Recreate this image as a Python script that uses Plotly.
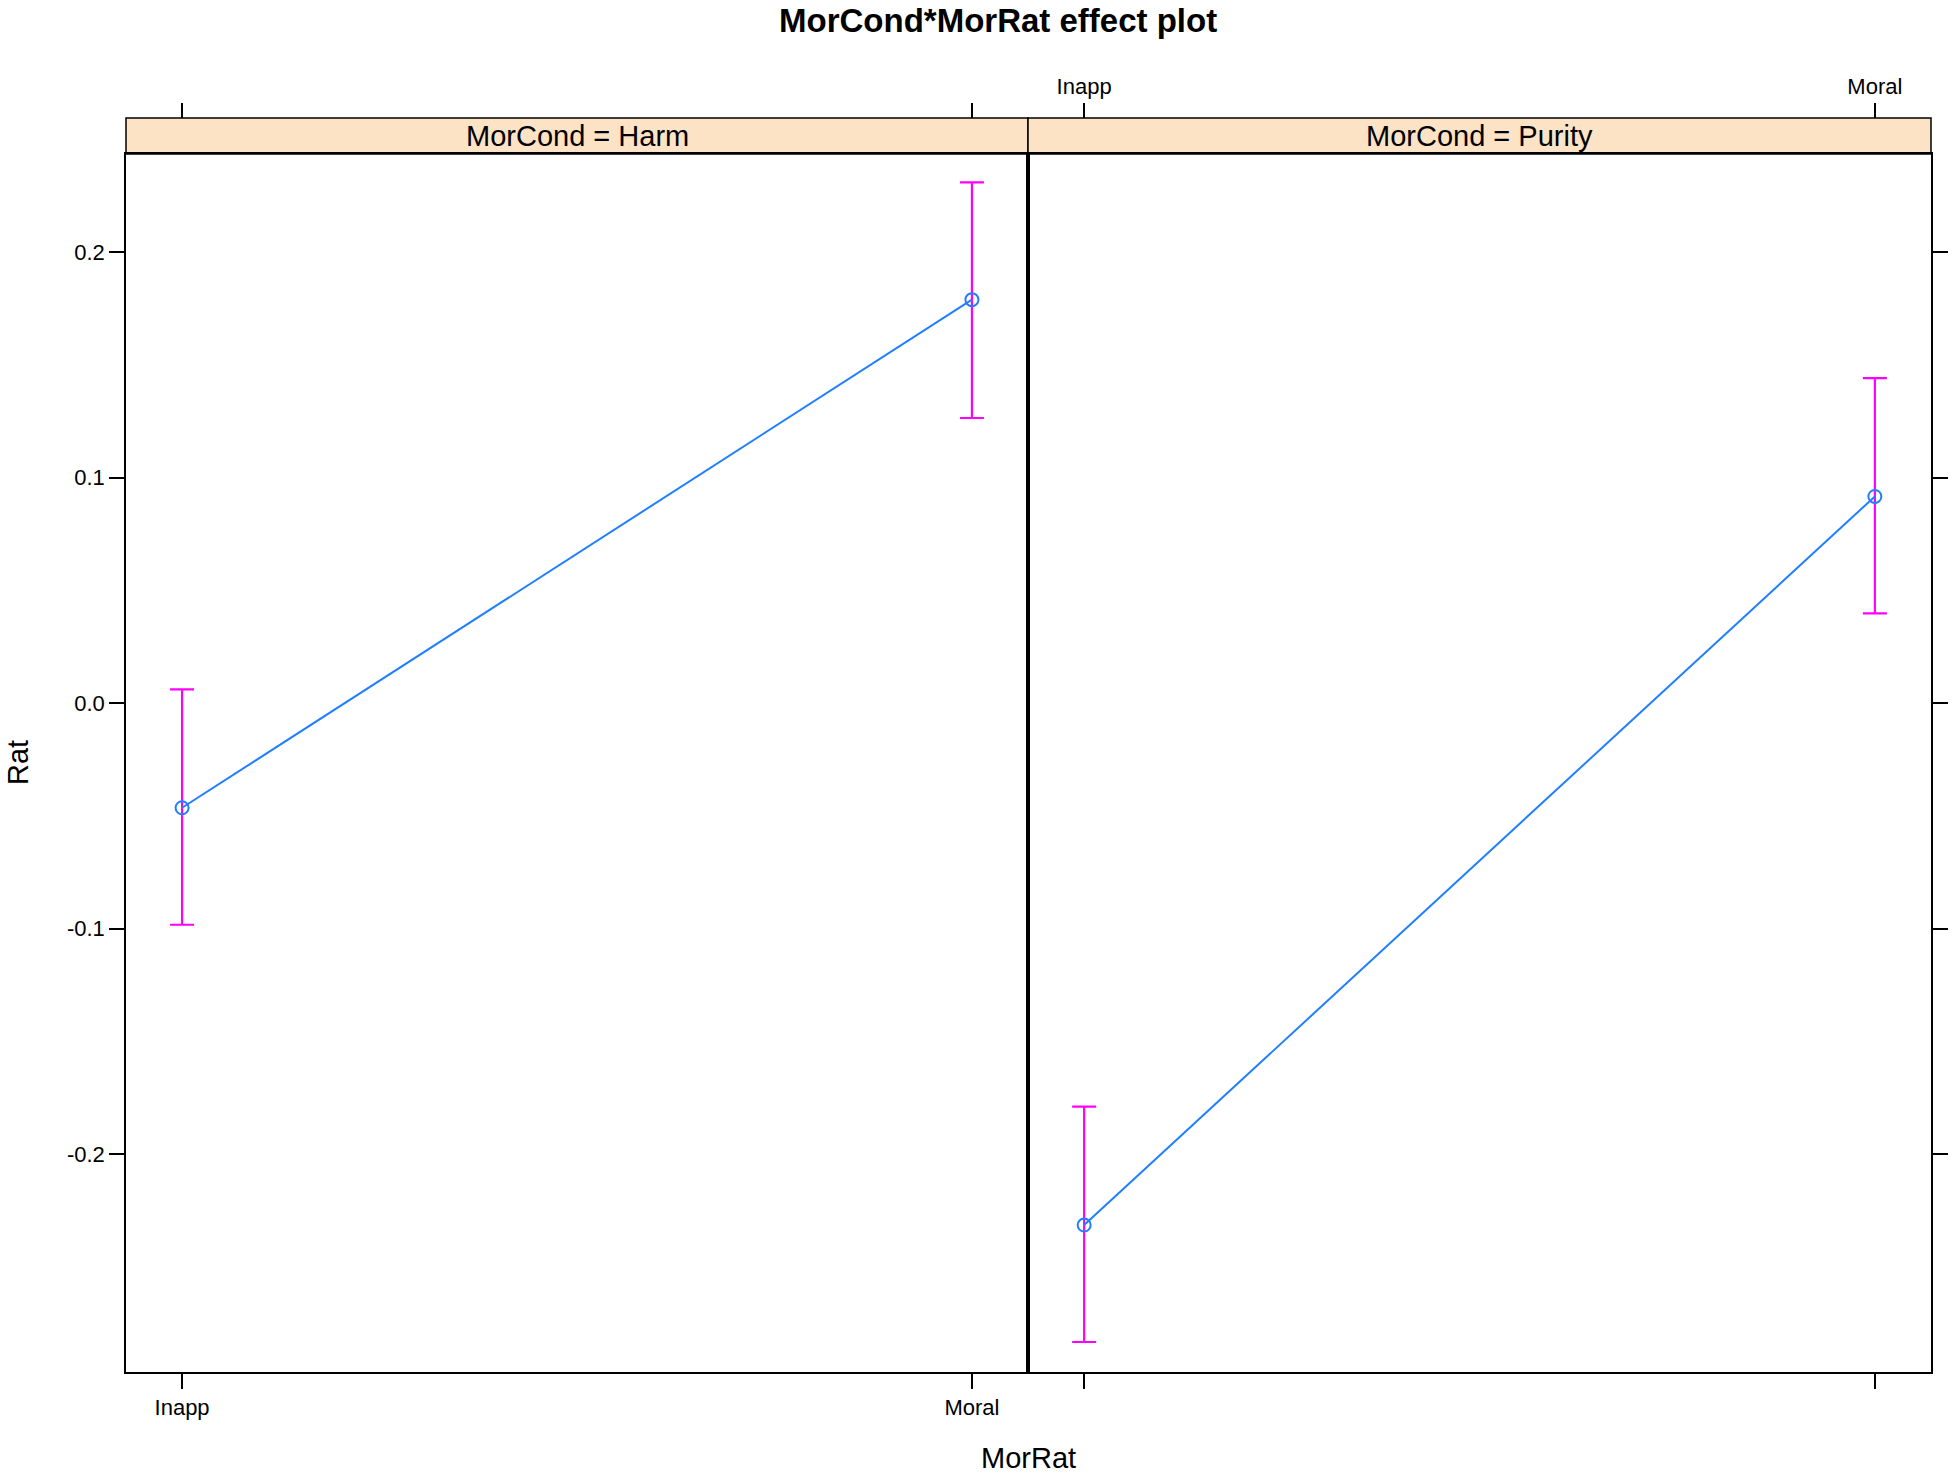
import plotly.graph_objects as go

# effect estimates
mor_rat = ["Inapp", "Moral"]
panels = ["Harm", "Purity"]
harm_fit = [-0.0464, 0.179]
harm_lower = [-0.0983, 0.1265]
harm_upper = [0.0061, 0.231]
purity_fit = [-0.2315, 0.0917]
purity_lower = [-0.2834, 0.0398]
purity_upper = [-0.179, 0.1442]
y_ticks = [-0.2, -0.1, 0.0, 0.1, 0.2]
y_tick_labels = ["-0.2", "-0.1", "0.0", "0.1", "0.2"]

W, H = 1952, 1476
FONT = "Liberation Sans, Arial, sans-serif"
LINE_COL = "#1f7fff"
ERR_COL = "#ff00ff"


def px(x):
    return x / W


def py(y):
    return 1 - y / H


# panel geometry in window pixels
px_left, px_mid, px_right = 126, 1028, 1931
py_top, py_bottom, strip_top = 154, 1372, 118
xd1 = [px(px_left), px(px_mid)]
xd2 = [px(px_mid), px(px_right)]
yd = [py(py_bottom), py(py_top)]
strip_y = [py(py_top), py(strip_top)]

fig = go.Figure()

series = [(harm_fit, harm_lower, harm_upper), (purity_fit, purity_lower, purity_upper)]
for i, (fit, lo, hi) in enumerate(series):
    xa = "x" if i == 0 else "x2"
    ya = "y" if i == 0 else "y2"
    fig.add_trace(go.Scatter(
        x=mor_rat, y=fit, xaxis=xa, yaxis=ya,
        mode="lines+markers",
        line=dict(color=LINE_COL, width=2),
        marker=dict(symbol="circle-open", size=13, color=LINE_COL, line=dict(width=2)),
        error_y=dict(type="data", symmetric=False,
                     array=[h - f for h, f in zip(hi, fit)],
                     arrayminus=[f - l for f, l in zip(fit, lo)],
                     color=ERR_COL, thickness=2.2, width=12),
        showlegend=False, hoverinfo="skip",
    ))
    # invisible trace so the top tick axes get drawn
    fig.add_trace(go.Scatter(
        x=mor_rat, y=fit, xaxis="x3" if i == 0 else "x4", yaxis=ya,
        mode="markers", marker=dict(opacity=0), showlegend=False, hoverinfo="skip",
    ))

xrange = [-0.071, 1.071]
yrange = [-0.2967, 0.2436]
axis_common = dict(showgrid=False, zeroline=False, ticks="outside", ticklen=15,
                   tickwidth=1.5, tickcolor="black",
                   tickfont=dict(family=FONT, size=22, color="black"))

fig.update_layout(
    width=W, height=H,
    margin=dict(l=0, r=0, t=0, b=0),
    plot_bgcolor="white", paper_bgcolor="white",
    xaxis=dict(domain=xd1, anchor="y", range=xrange, type="category",
               showline=True, linecolor="black", linewidth=1.5, mirror=True, **axis_common),
    xaxis2=dict(domain=xd2, anchor="y2", range=xrange, type="category",
                showline=True, linecolor="black", linewidth=1.5, mirror=True,
                showticklabels=False, **axis_common),
    xaxis3=dict(overlaying="x", side="top", anchor="free", position=strip_y[1],
                range=xrange, type="category", showline=False,
                showticklabels=False, **axis_common),
    xaxis4=dict(overlaying="x2", side="top", anchor="free", position=strip_y[1],
                range=xrange, type="category", showline=False, **axis_common),
    yaxis=dict(domain=yd, anchor="x", range=yrange, tickvals=y_ticks, ticktext=y_tick_labels,
               showline=True, linecolor="black", linewidth=1.5, mirror=True, **axis_common),
    yaxis2=dict(domain=yd, anchor="x2", range=yrange, tickvals=y_ticks, side="right",
                showline=True, linecolor="black", linewidth=1.5, mirror=True,
                showticklabels=False, **axis_common),
)

# strips
for i, name in enumerate(panels):
    xd = xd1 if i == 0 else xd2
    fig.add_shape(type="rect", xref="paper", yref="paper",
                  x0=xd[0], x1=xd[1], y0=strip_y[0], y1=strip_y[1],
                  fillcolor="#fde3c6", line=dict(color="black", width=1.5), layer="below")
    fig.add_annotation(xref="paper", yref="paper", x=(xd[0] + xd[1]) / 2,
                       y=(strip_y[0] + strip_y[1]) / 2, text=f"MorCond = {name}",
                       xanchor="center", yanchor="middle", showarrow=False,
                       font=dict(family=FONT, size=29, color="black"))

fig.add_annotation(xref="paper", yref="paper", x=px(998), y=1,
                   text="<b>MorCond*MorRat effect plot</b>", showarrow=False,
                   xanchor="center", yanchor="top",
                   font=dict(family=FONT, size=33, color="black"))
fig.add_annotation(xref="paper", yref="paper", x=px(px_mid), y=0,
                   text="MorRat", showarrow=False, xanchor="center", yanchor="bottom",
                   font=dict(family=FONT, size=29, color="black"))
fig.add_annotation(xref="paper", yref="paper", x=0, y=py(763),
                   text="Rat", textangle=-90, showarrow=False,
                   xanchor="left", yanchor="middle",
                   font=dict(family=FONT, size=29, color="black"))

# drop the default body margin so the figure fills the window exactly
fig.write_html("out.html", config={"displayModeBar": False},
               post_script="document.body.style.margin='0';")
